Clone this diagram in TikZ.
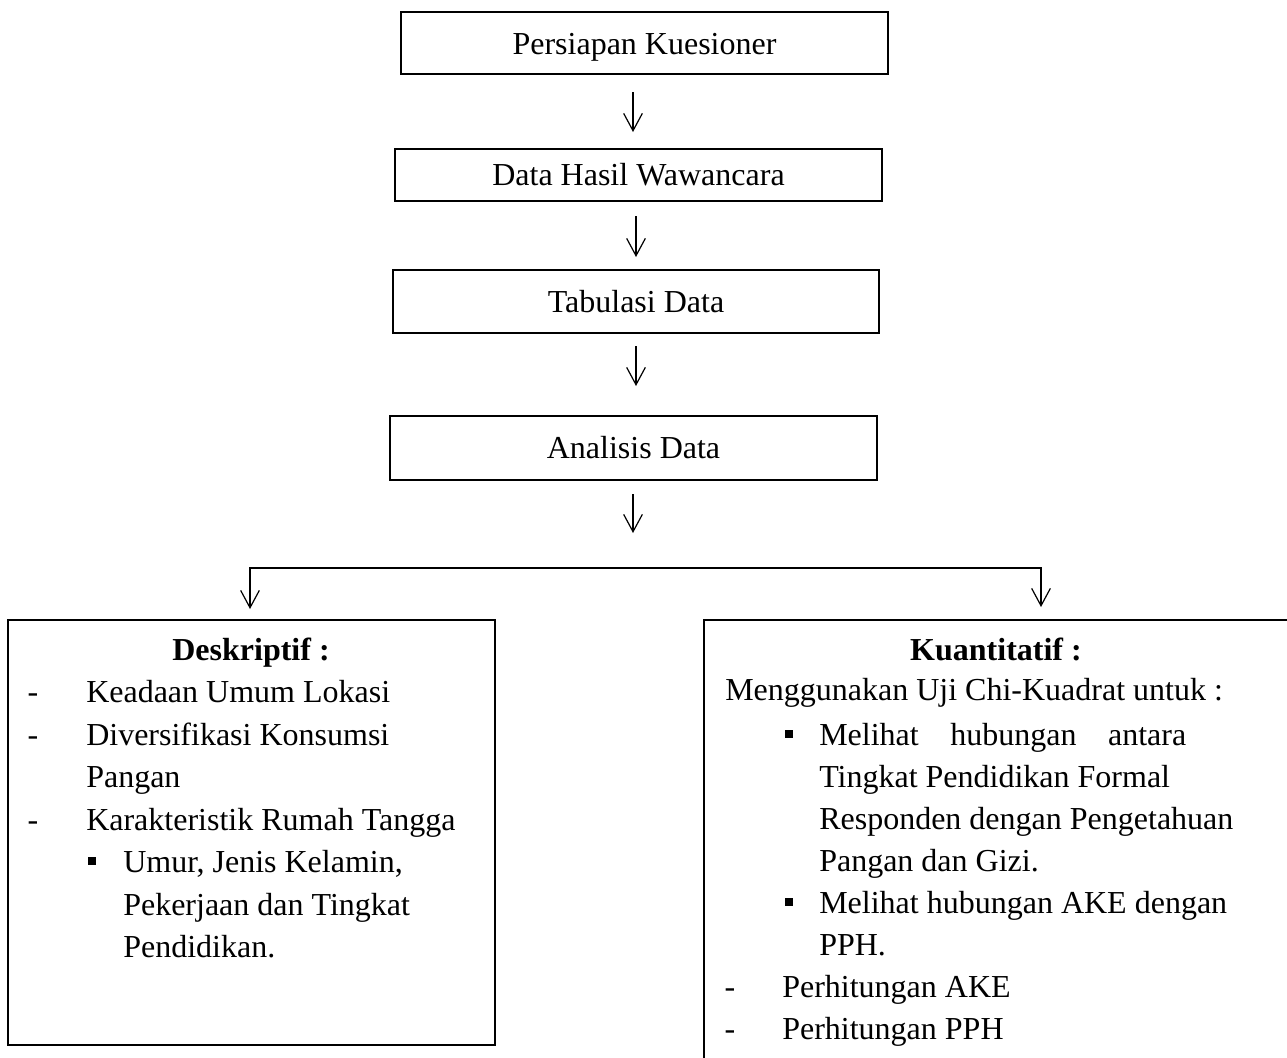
\documentclass[tikz,border=0pt]{standalone}
\usepackage{fontspec}
\setmainfont{Liberation Serif}
\usetikzlibrary{arrows.meta}
\begin{document}
\begin{tikzpicture}[x=0.75pt,y=-0.75pt,
  every node/.style={font=\fontsize{24pt}{32pt}\selectfont, inner sep=0pt},
  flowbox/.style={draw, line width=0.8pt},
  txt/.style={anchor=base west},
  ttl/.style={anchor=base, font=\fontsize{24pt}{32pt}\selectfont\bfseries},
  dsh/.style={anchor=base},
  sq/.style={fill, minimum size=6.3pt},
  arr/.style={-{Straight Barb[length=13pt,width=14pt]}, line width=0.9pt},
  arrboth/.style={{Straight Barb[length=13pt,width=14pt]}-{Straight Barb[length=13pt,width=14pt]}, line width=0.9pt}]
\useasboundingbox (0,0) rectangle (1287,1057);
% top chain
\node[flowbox, minimum width=365.25pt, minimum height=46.5pt, text depth=0pt, text height=17pt] (b1) at (644.5,43) {Persiapan Kuesioner};
\node[flowbox, minimum width=365.25pt, minimum height=39pt] (b2) at (638.5,175) {Data Hasil Wawancara};
\node[flowbox, minimum width=364.5pt, minimum height=47.25pt] (b3) at (636,301.5) {Tabulasi Data};
\node[flowbox, minimum width=365.25pt, minimum height=48pt] (b4) at (633.5,448) {Analisis Data};
% arrows
\coordinate (a1s) at (633,92);  \coordinate (a1e) at (633,132);
\coordinate (a2s) at (636,216); \coordinate (a2e) at (636,257);
\coordinate (a3s) at (636,346); \coordinate (a3e) at (636,386);
\coordinate (a4s) at (633,494); \coordinate (a4e) at (633,533);
\draw[arr] (a1s) -- (a1e);
\draw[arr] (a2s) -- (a2e);
\draw[arr] (a3s) -- (a3e);
\draw[arr] (a4s) -- (a4e);
\coordinate (brL) at (250,568); \coordinate (brR) at (1041,568);
\coordinate (brLe) at (250,609); \coordinate (brRe) at (1041,607);
\draw[arrboth] (brLe) -- (brL) -- (brR) -- (brRe);
% left box
\node[flowbox, minimum width=365.25pt, minimum height=318.75pt] (desc) at (251.5,832.5) {};
\node[ttl] (dt) at (251,660) {Deskriptif :};
\node[dsh] (d1) at (33,702) {-};
\node[txt] (t1) at (86,702) {Keadaan Umum Lokasi};
\node[dsh] (d2) at (33,745) {-};
\node[txt] (t2) at (86,745) {Diversifikasi Konsumsi};
\node[txt] (t3) at (86,787) {Pangan};
\node[dsh] (d3) at (33,830) {-};
\node[txt] (t4) at (86,830) {Karakteristik Rumah Tangga};
\node[sq] (s1) at (92,861) {};
\node[txt] (t5) at (123,872) {Umur, Jenis Kelamin,};
\node[txt] (t6) at (123,915) {Pekerjaan dan Tingkat};
\node[txt] (t7) at (123,957) {Pendidikan.};
% right box
\node[flowbox, minimum width=447pt, minimum height=345pt] (kuan) at (1002,850) {};
\node[ttl] (kt) at (996,660) {Kuantitatif :};
\node[txt] (k1) at (725,700) {Menggunakan Uji Chi-Kuadrat untuk :};
\node[sq] (s2) at (789,734) {};
\node[txt] (k2) at (819,745) {\makebox[275.25pt][s]{Melihat hubungan antara}};
\node[txt] (k3) at (819,787) {Tingkat Pendidikan Formal};
\node[txt] (k4) at (819,829) {Responden dengan Pengetahuan};
\node[txt] (k5) at (819,871) {Pangan dan Gizi.};
\node[sq] (s3) at (789,902) {};
\node[txt] (k6) at (819,913) {Melihat hubungan AKE dengan};
\node[txt] (k7) at (819,955) {PPH.};
\node[dsh] (d4) at (730,997) {-};
\node[txt] (k8) at (782,997) {Perhitungan AKE};
\node[dsh] (d5) at (730,1039) {-};
\node[txt] (k9) at (782,1039) {Perhitungan PPH};
\end{tikzpicture}
\end{document}
